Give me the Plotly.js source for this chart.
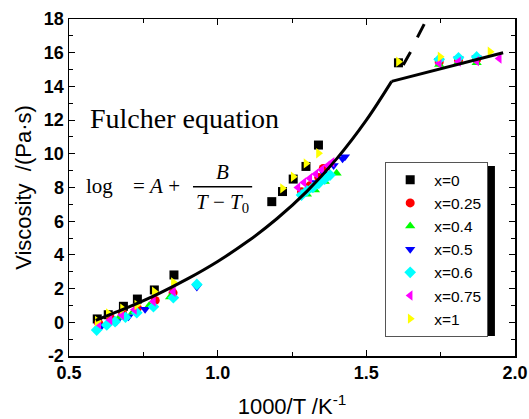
<!DOCTYPE html>
<html>
<head>
<meta charset="utf-8">
<script src="https://cdn.plot.ly/plotly-3.0.1.min.js"></script>
<style>html,body{margin:0;padding:0;background:#fff;}#chart{width:529px;height:419px;}</style>
</head>
<body>
<div id="chart"></div>
<script>
// ---- series ----
const seriesNames = ["x=0", "x=0.25", "x=0.4", "x=0.5", "x=0.6", "x=0.75", "x=1"];
const x0_x   = [0.595, 0.632, 0.683, 0.730, 0.787, 0.853, 1.182, 1.218, 1.254, 1.297, 1.339, 1.608];
const x0_y   = [0.20, 0.45, 0.95, 1.38, 1.92, 2.81, 7.16, 7.76, 8.50, 9.25, 10.52, 15.40];
const x025_x = [0.600, 0.640, 0.680, 0.730, 0.790, 0.850, 1.282, 1.310, 1.340, 1.355, 1.745, 1.810, 1.871];
const x025_y = [-0.05, 0.25, 0.55, 0.85, 1.30, 1.75, 7.75, 8.10, 8.60, 9.13, 15.45, 15.55, 15.60];
const x04_x  = [0.600, 0.635, 0.670, 0.715, 0.770, 0.840, 1.300, 1.327, 1.360, 1.400, 1.745, 1.810, 1.871];
const x04_y  = [-0.20, 0.05, 0.30, 0.60, 1.00, 1.50, 7.60, 7.85, 8.35, 8.84, 15.30, 15.45, 15.40];
const x05_x  = [0.610, 0.660, 0.700, 0.756, 0.930, 1.330, 1.360, 1.390, 1.420, 1.428, 1.745, 1.810, 1.871];
const x05_y  = [-0.20, 0.05, 0.33, 0.77, 2.10, 8.30, 8.80, 9.30, 9.70, 9.83, 15.55, 15.65, 15.70];
const x06_x  = [0.593, 0.627, 0.655, 0.690, 0.728, 0.784, 0.851, 0.930, 1.282, 1.300, 1.320, 1.340, 1.360, 1.378, 1.745, 1.810, 1.871];
const x06_y  = [-0.46, -0.16, 0.04, 0.30, 0.57, 0.93, 1.46, 2.25, 7.55, 7.80, 8.00, 8.25, 8.50, 8.74, 15.60, 15.70, 15.75];
const x075_x = [0.600, 0.638, 0.677, 0.720, 0.784, 0.851, 1.270, 1.290, 1.310, 1.330, 1.350, 1.370, 1.385, 1.745, 1.810, 1.871, 1.947];
const x075_y = [-0.10, 0.14, 0.43, 0.75, 1.23, 1.81, 8.00, 8.30, 8.55, 8.80, 9.05, 9.30, 9.50, 15.37, 15.47, 15.50, 15.66];
const x1_x   = [0.595, 0.632, 0.680, 0.728, 0.787, 0.851, 1.218, 1.254, 1.297, 1.339, 1.608, 1.748, 1.916];
const x1_y   = [0.08, 0.53, 0.80, 1.03, 1.81, 2.37, 7.95, 8.64, 9.43, 10.03, 15.47, 15.76, 16.06];

// fitted Fulcher curve (solid), glassy line, and dashed continuation
const fitX  = [0.59, 0.65, 0.70, 0.80, 0.90, 1.00, 1.10, 1.20, 1.30, 1.40, 1.50, 1.585];
const fitY  = [0.12, 0.54, 0.90, 1.69, 2.59, 3.61, 4.79, 6.16, 7.77, 9.70, 12.00, 14.30];
const glassX = [1.585, 1.96];
const glassY = [14.30, 16.00];
const dashX = [1.624, 1.649, 1.673, 1.697];
const dashY = [15.27, 16.06, 16.95, 17.78];

const xTickVals = [0.5, 1.0, 1.5, 2.0];
const xTickText = ["0.5", "1.0", "1.5", "2.0"];
const yTickVals = [-2, 0, 2, 4, 6, 8, 10, 12, 14, 16, 18];
const yTickText = ["-2", "0", "2", "4", "6", "8", "10", "12", "14", "16", "18"];

// ---- styles ----
const symbols = ["square", "circle", "triangle-up", "triangle-down", "diamond", "triangle-left", "triangle-right"];
const colors  = ["#000000", "#ff0000", "#00ff00", "#0000ff", "#00ffff", "#ff00ff", "#ffff00"];
const xs = [x0_x, x025_x, x04_x, x05_x, x06_x, x075_x, x1_x];
const ys = [x0_y, x025_y, x04_y, x05_y, x06_y, x075_y, x1_y];

const traces = seriesNames.map((n, i) => ({
  type: "scatter", mode: "markers", name: n, x: xs[i], y: ys[i],
  marker: {symbol: symbols[i], color: colors[i], size: 9, line: {width: 0}}
}));
traces.push({type: "scatter", mode: "lines", x: fitX, y: fitY, showlegend: false,
  line: {color: "#000", width: 3, shape: "spline"}, hoverinfo: "skip"});
traces.push({type: "scatter", mode: "lines", x: glassX, y: glassY, showlegend: false,
  line: {color: "#000", width: 3}, hoverinfo: "skip"});
traces.push({type: "scatter", mode: "lines", x: dashX, y: dashY, showlegend: false,
  line: {color: "#000", width: 3, dash: "15px,16px"}, hoverinfo: "skip"});

const bold = s => "<b>" + s + "</b>";
const axisBase = {
  showgrid: false, zeroline: false, showline: true, linecolor: "#000", linewidth: 1.5,
  mirror: "allticks", ticks: "inside", ticklen: 6, tickwidth: 1.2, tickcolor: "#000",
  tickfont: {family: "Liberation Sans, Arial, sans-serif", size: 18, color: "#000"}
};

const layout = {
  width: 529, height: 419,
  margin: {l: 69, r: 14, t: 19, b: 63},
  paper_bgcolor: "#fff", plot_bgcolor: "#fff",
  showlegend: true,
  xaxis: Object.assign({}, axisBase, {
    range: [0.5, 2.0], tickvals: xTickVals, ticktext: xTickText.map(bold),
    minor: {dtick: 0.25, ticks: "inside", ticklen: 4, tickcolor: "#000", tickwidth: 1},
    title: {text: "1000/T /K<sup>-1</sup>", standoff: 17,
      font: {family: "Liberation Sans, Arial, sans-serif", size: 22, color: "#000"}}
  }),
  yaxis: Object.assign({}, axisBase, {
    range: [-2, 18], tickvals: yTickVals, ticktext: yTickText.map(bold),
    minor: {dtick: 1, ticks: "inside", ticklen: 4, tickcolor: "#000", tickwidth: 1},
    title: {text: "Viscosity  /(Pa·s)", standoff: 6,
      font: {family: "Liberation Sans, Arial, sans-serif", size: 22, color: "#000"}}
  }),
  legend: {
    x: 0.7085, y: 0.5757, xanchor: "left", yanchor: "top",
    bgcolor: "#fff", bordercolor: "#555", borderwidth: 1.2,
    itemwidth: 38,
    font: {family: "Liberation Sans, Arial, sans-serif", size: 15.5, color: "#000"}
  },
  shapes: [
    // drop shadow of the legend box
    {type: "rect", xref: "paper", yref: "paper", x0: 0.7197, x1: 0.955, y0: 0.0593, y1: 0.5638,
      fillcolor: "#000", line: {width: 0}, layer: "above"},
    // fraction bar of the formula
    {type: "line", xref: "x", yref: "y", x0: 0.917, x1: 1.116, y0: 8.05, y1: 8.05,
      line: {color: "#000", width: 1.5}}
  ],
  annotations: [
    {x: 0.887, y: 12.12, xref: "x", yref: "y", text: "Fulcher equation", showarrow: false,
      font: {family: "Liberation Serif, Times New Roman, serif", size: 28, color: "#000"}},
    {x: 0.604, y: 8.09, xref: "x", yref: "y", text: "log", showarrow: false,
      font: {family: "Liberation Serif, Times New Roman, serif", size: 21, color: "#000"}},
    {x: 0.794, y: 8.09, xref: "x", yref: "y", text: "= <i>A</i> +", showarrow: false,
      font: {family: "Liberation Serif, Times New Roman, serif", size: 21, color: "#000"}},
    {x: 1.015, y: 8.94, xref: "x", yref: "y", text: "<i>B</i>", showarrow: false,
      font: {family: "Liberation Serif, Times New Roman, serif", size: 21, color: "#000"}},
    {x: 1.015, y: 7.08, xref: "x", yref: "y", text: "<i>T</i> − <i>T</i><sub>0</sub>", showarrow: false,
      font: {family: "Liberation Serif, Times New Roman, serif", size: 21, color: "#000"}}
  ]
};

Plotly.newPlot("chart", traces, layout, {displayModeBar: false, staticPlot: true});
</script>
</body>
</html>
